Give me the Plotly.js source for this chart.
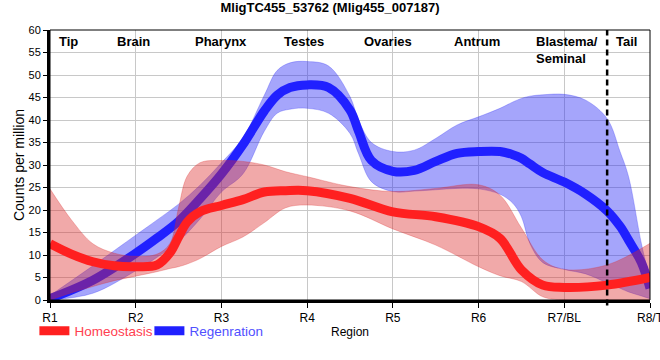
<!DOCTYPE html>
<html>
<head>
<meta charset="utf-8">
<script src="https://cdn.plot.ly/plotly-3.0.1.min.js"></script>
<style>html,body{margin:0;padding:0;background:#fff;}#chart{width:660px;height:360px;}</style>
</head>
<body>
<div id="chart"></div>
<script>
// Region tick positions and labels
const tickPos = [1, 2, 3, 4, 5, 6, 7, 8];
const tickLabels = ["R1", "R2", "R3", "R4", "R5", "R6", "R7/BL", "R8/T"];
const regionNames = ["Tip", "Brain", "Pharynx", "Testes", "Ovaries", "Antrum", "Blastema/<br>Seminal", "Tail"];
const regionPos = [1.22, 1.97, 2.99, 3.96, 4.94, 5.98, 6.65, 7.72];

// Homeostasis
const homX     = [1, 1.25, 1.5, 1.75, 2, 2.25, 2.4, 2.5, 2.6, 2.75, 3, 3.25, 3.5, 3.75, 4, 4.5, 5, 5.5, 6, 6.25, 6.5, 6.75, 7, 7.5, 8];
const homMean  = [12.5, 10.2, 8.5, 7.6, 7.4, 7.8, 10.5, 14, 17.3, 19.6, 21, 22.3, 24, 24.3, 24.3, 22.6, 19.6, 18.5, 16.3, 13.7, 6.7, 3.3, 2.8, 3.3, 5];
const homUpper = [24.7, 17.8, 12.5, 10.4, 9.7, 10.2, 12.6, 20.5, 27.5, 30.5, 31, 30.8, 30, 28.5, 27.4, 25.2, 24.1, 24.8, 25.6, 23.3, 16, 8.9, 6.8, 7.8, 12.6];
const homLower = [0, 1.6, 3, 4.3, 5.3, 6.3, 7, 7.4, 8, 9.2, 11.9, 14, 17.2, 20.5, 21.1, 19.8, 15.8, 12.2, 7.4, 5.4, 4.1, 0.7, 0, 0, 0];

// Regeneration
const regX     = [1, 1.5, 2, 2.25, 2.5, 2.75, 3, 3.25, 3.5, 3.65, 3.8, 4, 4.25, 4.5, 4.6, 4.75, 5, 5.25, 5.5, 5.75, 6, 6.25, 6.4, 6.5, 6.6, 6.75, 7, 7.25, 7.5, 7.65, 7.75, 7.9, 8];
const regMean  = [0.3, 4.4, 10.4, 13.8, 17.5, 22.5, 28, 34.5, 42, 45.5, 47.2, 47.8, 47.2, 42.2, 37.5, 31, 28.6, 28.8, 30.8, 32.6, 33, 33, 32.3, 31.5, 30.2, 28.3, 26.2, 23.5, 19.8, 16.4, 13.3, 8.3, 2.6];
const regUpper = [1, 7.6, 14.4, 17.8, 21.3, 25.5, 30.5, 36, 45.5, 51, 52.7, 53, 52, 45.2, 40, 35, 33, 33.3, 35.9, 38.9, 40.7, 42.6, 44, 44.8, 45.3, 45.6, 45.7, 44.4, 40.3, 33, 27.4, 12.5, 4.5];
const regLower = [0, 1.5, 6.5, 9.5, 13, 18, 24, 28, 37.5, 41.5, 42.4, 42.6, 41.5, 37, 32.5, 26.3, 24.1, 24.2, 24.5, 24.8, 24.7, 23.5, 21.5, 18.5, 12.5, 8.3, 6.8, 5.8, 3.8, 2.6, 1.8, 0.9, 0.3];

const redLine = 'rgb(255,32,32)';
const blueLine = 'rgb(32,32,255)';
const redFill = 'rgba(220,40,40,0.4)';
const blueFill = 'rgba(40,40,245,0.42)';

function band(x, up, lo, fill, edge) {
  return [
    {x: x, y: up, type: 'scatter', mode: 'lines', line: {shape: 'spline', width: 0.8, color: edge}, showlegend: false, hoverinfo: 'skip'},
    {x: x, y: lo, type: 'scatter', mode: 'lines', line: {shape: 'spline', width: 0.8, color: edge}, fill: 'tonexty', fillcolor: fill, showlegend: false, hoverinfo: 'skip'}
  ];
}

const traces = [].concat(
  band(regX, regUpper, regLower, blueFill, 'rgba(40,40,245,0.35)'),
  [{x: regX, y: regMean, type: 'scatter', mode: 'lines', name: '<span style="color:#5050ff">Regenration</span>', line: {shape: 'spline', width: 9, color: blueLine}}],
  band(homX, homUpper, homLower, redFill, 'rgba(220,40,40,0.35)'),
  [{x: homX, y: homMean, type: 'scatter', mode: 'lines', name: '<span style="color:#ff4050">Homeostasis</span>', line: {shape: 'spline', width: 9, color: redLine}}]
);

const annotations = regionNames.map((t, i) => ({
  text: '<b>' + t + '</b>', x: regionPos[i], xref: 'x', y: 0.992, yref: 'paper',
  xanchor: i === 6 ? 'left' : 'center', yanchor: 'top', align: 'left', showarrow: false,
  font: {family: 'Liberation Sans, Arial, sans-serif', size: 13, color: '#000'}
}));

const layout = {
  width: 660, height: 360,
  margin: {l: 50, r: 10, t: 30, b: 60},
  paper_bgcolor: '#fff', plot_bgcolor: '#fff',
  font: {family: 'Liberation Sans, Arial, sans-serif', color: '#000'},
  title: {text: '<b>MligTC455_53762 (Mlig455_007187)</b>', x: 0.5, xanchor: 'center', y: 0.978, yanchor: 'middle', yref: 'container', font: {size: 13, color: '#000'}},
  xaxis: {
    range: [1, 8], tickvals: tickPos, ticktext: tickLabels,
    showgrid: true, gridcolor: '#c8c8c8', gridwidth: 1,
    showline: true, linecolor: '#000', linewidth: 3,
    ticks: 'outside', ticklen: 5, tickcolor: '#000', tickwidth: 1,
    tickfont: {size: 12, color: '#000'}, zeroline: false, ticklabeloverflow: 'allow',
    title: {text: 'Region', font: {size: 12}, standoff: 4}
  },
  yaxis: {
    range: [0, 60], dtick: 5, tick0: 0,
    showgrid: true, gridcolor: '#c8c8c8', gridwidth: 1,
    showline: true, linecolor: '#000', linewidth: 3,
    ticks: 'outside', ticklen: 4, tickcolor: '#000', tickwidth: 1,
    tickfont: {size: 11, color: '#000'}, zeroline: false,
    title: {text: 'Counts per million', font: {size: 14}, standoff: 1}
  },
  legend: {orientation: 'h', traceorder: 'reversed', x: -0.026, xanchor: 'left', y: -0.115, yanchor: 'middle', font: {size: 13.5}, bgcolor: 'rgba(0,0,0,0)', itemwidth: 30, entrywidth: 70, entrywidthmode: 'pixels'},
  shapes: [
    {type: 'rect', xref: 'paper', yref: 'paper', x0: 0, x1: 1, y0: 0, y1: 1, line: {color: '#000', width: 1}, layer: 'above'},
    {type: 'line', xref: 'x', yref: 'paper', x0: 7.5, x1: 7.5, y0: -0.02, y1: 1, line: {color: '#000', width: 2.5, dash: '6px,4px'}, layer: 'above'}
  ],
  annotations: annotations,
  showlegend: true
};

Plotly.newPlot('chart', traces, layout, {displayModeBar: false, staticPlot: true});
</script>
</body>
</html>
